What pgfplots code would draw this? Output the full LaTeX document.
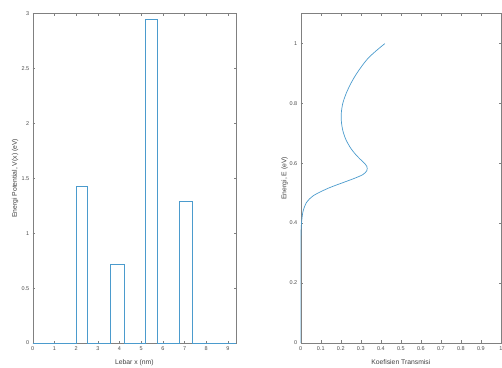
\documentclass[border=0pt]{standalone}
\usepackage{fontspec}
\setmainfont{Liberation Sans}
\usepackage{pgfplots}
\pgfplotsset{compat=1.18}
\definecolor{mblue}{RGB}{75,155,205}
\pgfplotsset{mystyle/.style={
  scale only axis,
  axis line style={black!50},
  every tick/.style={black!50},
  major tick length=2.5pt,
  tick label style={font=\fontsize{5.5}{6.5}\selectfont, text=black!70},
  label style={font=\fontsize{6.8}{8}\selectfont, text=black!75},
  /pgf/number format/assume math mode=true,
  xlabel style={at={(axis description cs:0.5,0)}, anchor=center, yshift=-19.5pt},
}}
\begin{document}
\begin{tikzpicture}
\useasboundingbox (0pt,0pt) rectangle (502pt,367pt);
\clip (0pt,0pt) rectangle (502pt,367pt);
\begin{axis}[mystyle, anchor=south west, at={(32.7pt,24pt)}, width=203.3pt, height=329.3pt,
  xmin=0, xmax=9.37, ymin=0, ymax=3,
  xtick={0,1,...,9}, ytick={0,0.5,1,1.5,2,2.5,3},
  yticklabels={0,0.5,1,1.5,2,2.5,3},
  xlabel={Lebar x (nm)}, ylabel={Energi Potential, V(x) (eV)},
  ylabel style={at={(axis description cs:0,0.5)}, anchor=center, yshift=17.5pt}]
\addplot[mblue, line width=0.7pt] coordinates {(0,0) (2.03,0) (2.03,1.43) (2.53,1.43) (2.53,0) (3.57,0) (3.57,0.72) (4.21,0.72) (4.21,0) (5.19,0) (5.19,2.95) (5.75,2.95) (5.75,0) (6.76,0) (6.76,1.29) (7.35,1.29) (7.35,0) (9.37,0)};
\end{axis}
\begin{axis}[mystyle, anchor=south west, at={(300.7pt,24.3pt)}, width=200.3pt, height=329pt,
  xmin=0, xmax=1, ymin=0, ymax=1.1,
  xtick={0,0.1,...,1}, ytick={0,0.2,0.4,0.6,0.8,1},
  xticklabels={0,0.1,0.2,0.3,0.4,0.5,0.6,0.7,0.8,0.9,1},
  yticklabels={0,0.2,0.4,0.6,0.8,1},
  xlabel={Koefisien Transmisi}, ylabel={Energi, E (eV)},
  ylabel style={at={(axis description cs:0,0.5)}, anchor=center, yshift=16pt}]
\addplot[mblue, line width=0.7pt] coordinates {(0,0) (0,0.3)};
\addplot[mblue, line width=0.7pt, smooth, tension=0.5] coordinates {(0,0.3) (0.001,0.36) (0.004,0.40) (0.012,0.44) (0.03,0.47) (0.06,0.49) (0.1,0.505) (0.15,0.52) (0.21,0.535) (0.27,0.55) (0.31,0.562) (0.33,0.575) (0.33,0.59) (0.31,0.605) (0.28,0.625) (0.25,0.65) (0.225,0.68) (0.21,0.71) (0.203,0.74) (0.203,0.77) (0.21,0.80) (0.225,0.83) (0.245,0.86) (0.27,0.89) (0.30,0.92) (0.335,0.95) (0.375,0.975) (0.42,1.0)};
\end{axis}
\end{tikzpicture}
\end{document}
